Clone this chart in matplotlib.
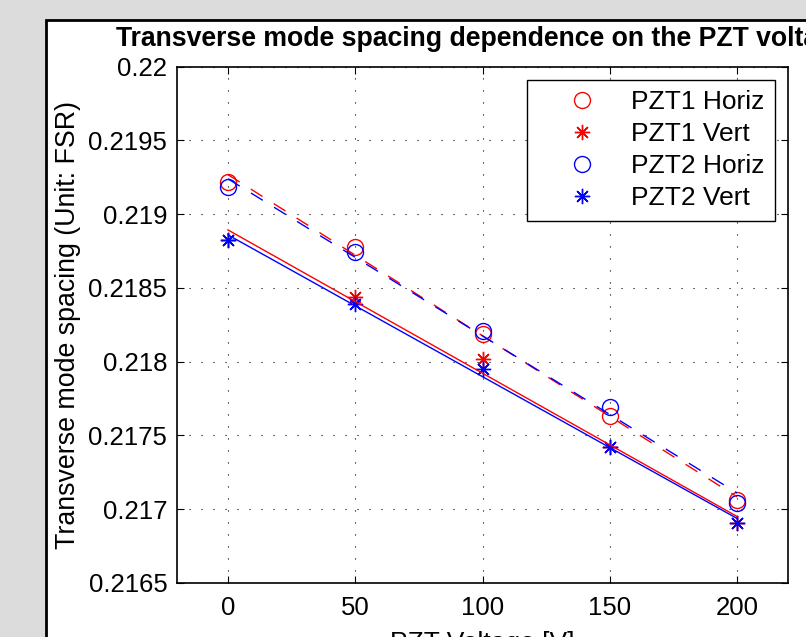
import numpy as np
import matplotlib
matplotlib.use('Agg')
import matplotlib.pyplot as plt
from matplotlib.patches import Rectangle
from matplotlib.ticker import FuncFormatter

plt.rcParams['font.family'] = ['Liberation Sans', 'DejaVu Sans']

# data
voltage = [0, 50, 100, 150, 200]
pzt1_horiz = [0.21922, 0.21878, 0.218186, 0.217632, 0.217063]
pzt1_vert = [0.218825, 0.218441, 0.218016, 0.217424, 0.216905]
pzt2_horiz = [0.219182, 0.218746, 0.218208, 0.217695, 0.217045]
pzt2_vert = [0.218825, 0.218391, 0.217949, 0.217424, 0.216905]

series_labels = ['PZT1 Horiz', 'PZT1 Vert', 'PZT2 Horiz', 'PZT2 Vert']
x_ticks = [0, 50, 100, 150, 200]
y_ticks = [0.2165, 0.217, 0.2175, 0.218, 0.2185, 0.219, 0.2195, 0.22]

W, H = 806, 637
fig = plt.figure(figsize=(W/100., H/100.), dpi=100)
fig.patch.set_facecolor('#dcdcdc')

# white figure panel (cropped matlab window)
panel = Rectangle((46./W, -0.1), 1.2, 1 - 20./H + 0.1, transform=fig.transFigure,
    facecolor='white', edgecolor='black', linewidth=2, zorder=-10)
fig.patches.append(panel)

ax = fig.add_axes([177./W, 1 - 583./H, (788. - 177.)/W, (583. - 66.7)/H])

fs = 18.5
asterisk = (8, 2, 0)
dash = (0, (10, 9.5))

ax.plot(voltage, pzt1_horiz, 'o', color='red', mfc='none', ms=11.5, mew=1.0, label=series_labels[0])
ax.plot(voltage, pzt1_vert, marker=asterisk, ls='none', color='red', ms=11, mew=1.0, label=series_labels[1])
ax.plot(voltage, pzt2_horiz, 'o', color='blue', mfc='none', ms=11.5, mew=1.0, label=series_labels[2])
ax.plot(voltage, pzt2_vert, marker=asterisk, ls='none', color='blue', ms=11, mew=1.0, label=series_labels[3])

# linear fits
xf = np.array([voltage[0], voltage[-1]])
for ys, col, style in [(pzt1_horiz, 'red', dash), (pzt1_vert, 'red', '-'),
                       (pzt2_horiz, 'blue', dash), (pzt2_vert, 'blue', '-')]:
    p = np.polyfit(voltage, ys, 1)
    ax.plot(xf, np.polyval(p, xf), color=col, linestyle=style, lw=1.0)

ax.set_xlim(-20, 220)
ax.set_ylim(0.2165, 0.22)
ax.set_xticks(x_ticks)
ax.set_yticks(y_ticks)
ax.yaxis.set_major_formatter(FuncFormatter(lambda v, pos: '{:g}'.format(round(v, 6))))
ax.tick_params(direction='in', length=5, width=0.8, top=True, right=True, labelsize=fs, pad=7)
ax.tick_params(axis='x', pad=9.5)
ax.grid(True, color='black', linestyle=(0, (1, 9.8)), lw=0.8)
for s in ax.spines.values():
    s.set_linewidth(1.2)

ax.set_title('Transverse mode spacing dependence on the PZT voltage',
    fontsize=19.2, fontweight='bold', pad=15)
ax.set_xlabel('PZT Voltage [V]', fontsize=19, labelpad=8)
ax.set_ylabel('Transverse mode spacing (Unit: FSR)', fontsize=19.3, labelpad=5)

leg = ax.legend(loc='upper right', fontsize=19, numpoints=1, handlelength=3.4,
    handletextpad=0.15, labelspacing=0.3, borderpad=0.4, borderaxespad=0.5,
    fancybox=False, framealpha=1, edgecolor='black')
leg.get_frame().set_linewidth(1.0)

fig.savefig('out.png', dpi=100, facecolor=fig.get_facecolor())
